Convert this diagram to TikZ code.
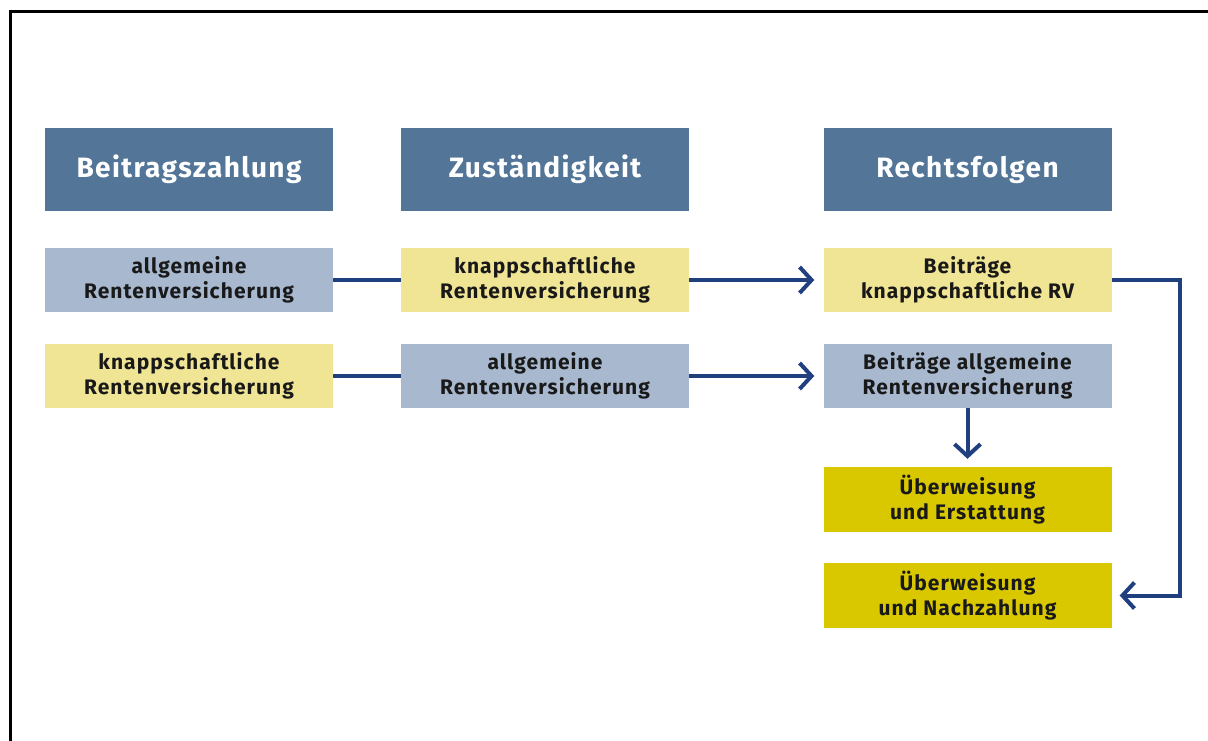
\documentclass[tikz,border=0pt]{standalone}
\usepackage{fontspec}
\setmainfont[LetterSpace=5]{Fira Sans}
\usetikzlibrary{arrows.meta}
\definecolor{hdr}{HTML}{527598}
\definecolor{lblue}{HTML}{A7B8CF}
\definecolor{lyel}{HTML}{F0E594}
\definecolor{dyel}{HTML}{D9C800}
\definecolor{navy}{HTML}{1F3F7F}
\tikzset{
  box/.style={minimum width=288pt, minimum height=64pt, inner sep=0pt, align=center, font=\fontsize{21}{25}\selectfont\bfseries, text=black!90},
  hbox/.style={box, fill=hdr, minimum height=83pt, text=white, font=\fontsize{28}{30}\selectfont\bfseries},
  bluebox/.style={box, fill=lblue},
  yelbox/.style={box, fill=lyel},
  olbox/.style={box, fill=dyel},
  conn/.style={draw=navy, line width=4pt},
  arr/.style={conn, -{Straight Barb[length=12pt, width=26pt]}}
}
\begin{document}
\begin{tikzpicture}[x=1pt,y=-1pt]
\useasboundingbox (0,0) rectangle (1208,740);
\fill[white] (0,0) rectangle (1208,740);
\draw[line width=3pt] (10,742) -- (10,11) -- (1210,11);
% headers
\node[hbox] (h1) at (189,169.5) {Beitragszahlung};
\node[hbox] (h2) at (545,169.5) {Zuständigkeit};
\node[hbox] (h3) at (967.5,169.5) {Rechtsfolgen};
% row 1
\node[bluebox] (a1) at (189,280) {allgemeine\\Rentenversicherung};
\node[yelbox] (b1) at (545,280) {knappschaftliche\\Rentenversicherung};
\node[yelbox] (c1) at (967.5,280) {Beiträge\\knappschaftliche RV};
% row 2
\node[yelbox] (a2) at (189,376) {knappschaftliche\\Rentenversicherung};
\node[bluebox] (b2) at (545,376) {allgemeine\\Rentenversicherung};
\node[bluebox] (c2) at (967.5,376) {Beiträge allgemeine\\Rentenversicherung};
% results
\node[olbox, minimum height=65pt] (d1) at (967.5,499.5) {Überweisung\\und Erstattung};
\node[olbox, minimum height=65pt] (d2) at (967.5,595.5) {Überweisung\\und Nachzahlung};
\coordinate (r) at (1180,280);
% connectors
\draw[conn] (a1.east) -- (b1.west);
\draw[conn] (a2.east) -- (b2.west);
\draw[arr] (b1.east) -- ([xshift=-9pt]c1.west);
\draw[arr] (b2.east) -- ([xshift=-9pt]c2.west);
\draw[arr] (c2.south) -- ([yshift=8pt]d1.north);
\draw[arr] (c1.east) -- (r) |- ([xshift=8pt]d2.east);
\end{tikzpicture}
\end{document}
